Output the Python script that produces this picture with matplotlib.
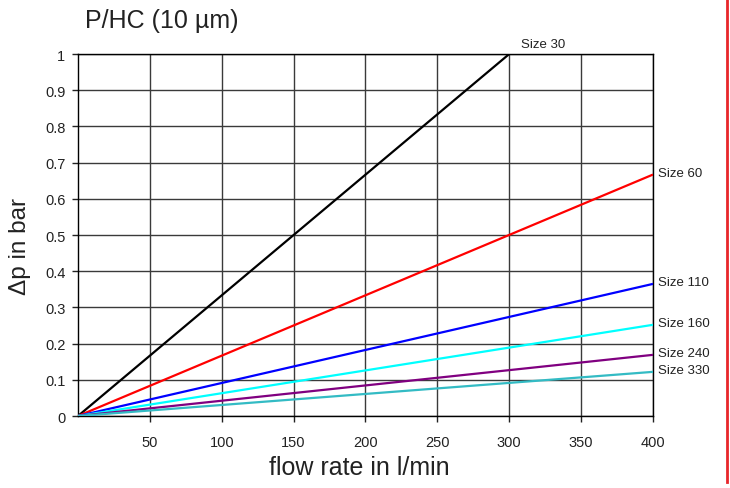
import matplotlib
matplotlib.use("Agg")
import matplotlib.pyplot as plt
from matplotlib.lines import Line2D

plt.rcParams["font.family"] = ["Liberation Sans", "DejaVu Sans"]

# Dados: Δp (bar) em 0 e no ponto final de cada curva
tamanhos = ["Size 30", "Size 60", "Size 110", "Size 160", "Size 240", "Size 330"]
vazao_fim = [300, 400, 400, 400, 400, 400]
dp_fim = [1.0, 0.667, 0.365, 0.252, 0.169, 0.122]
cores = ["black", "red", "blue", "cyan", "purple", "#33BBC4"]

x_ticks = [50, 100, 150, 200, 250, 300, 350, 400]
y_ticks = [0, 0.1, 0.2, 0.3, 0.4, 0.5, 0.6, 0.7, 0.8, 0.9, 1]
y_labels = ["0", "0.1", "0.2", "0.3", "0.4", "0.5", "0.6", "0.7", "0.8", "0.9", "1"]

fig = plt.figure(figsize=(7.30, 4.89), dpi=100)
ax = fig.add_axes([0.1068, 0.1472, 0.7877, 0.7403])

ax.set_xlim(0, 400)
ax.set_ylim(0, 1)
ax.set_xticks(x_ticks)
ax.set_yticks(y_ticks)
ax.set_yticklabels(y_labels)
ax.grid(True, color="#3a3a3a", lw=1.0)
ax.set_axisbelow(True)
for sp in ax.spines.values():
    sp.set_color("black")
    sp.set_linewidth(1.0)
ax.tick_params(labelsize=10.5, colors="#222222", length=4, width=1)
ax.tick_params(axis="x", pad=10)
ax.tick_params(axis="y", pad=5)

for nome, xf, yf, cor in zip(tamanhos, vazao_fim, dp_fim, cores):
    ax.plot([0, xf], [0, yf], color=cor, lw=1.6, solid_capstyle="butt", zorder=3)
    if xf < 400:
        ax.text(xf + 8, yf + 0.012, nome, fontsize=9.5, color="#222222",
                ha="left", va="bottom", clip_on=False)
    else:
        ax.text(xf + 3.5, yf + 0.004, nome, fontsize=9.5, color="#222222",
                ha="left", va="center", clip_on=False)

ax.set_xlabel("flow rate in l/min", fontsize=18, color="#222222")
ax.set_ylabel("Δp in bar", fontsize=17.5, color="#222222")
ax.xaxis.set_label_coords(0.489, -0.141)
ax.yaxis.set_label_coords(-0.10, 0.472)
ax.xaxis.label.set_va("center")
ax.yaxis.label.set_va("center")

fig.text(85 / 730, 1 - 21 / 489, "P/HC (10 µm)", fontsize=18, color="#222222",
         ha="left", va="center")

# linha vermelha vertical à direita
fig.add_artist(Line2D([727 / 730, 727 / 730], [1.0, 1 - 483 / 489],
                      color="#e8262a", lw=2.0, transform=fig.transFigure))

fig.savefig("out.png", dpi=100, facecolor="white")
